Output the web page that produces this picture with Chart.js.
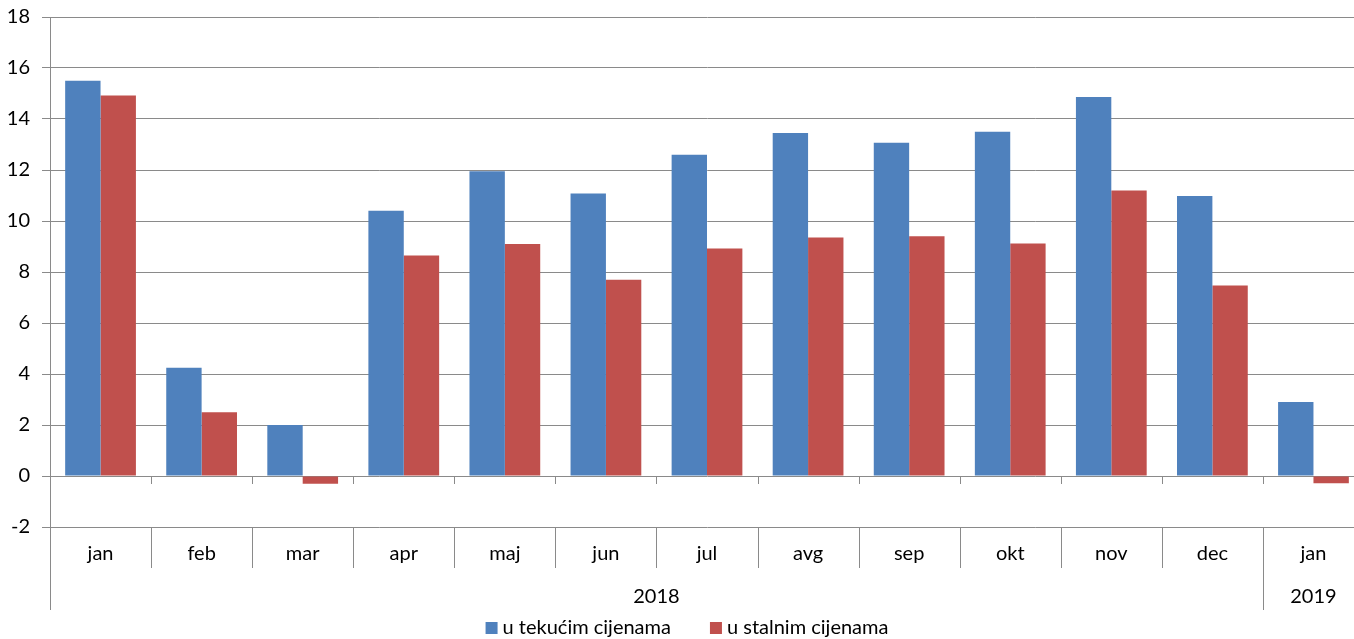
<!DOCTYPE html>
<html lang="hr">
<head>
  <meta charset="UTF-8" />
  <title>Promet</title>
  <script src="https://cdn.jsdelivr.net/npm/chart.js"></script>
  <style>
    html, body {
      margin: 0;
      padding: 0;
      background: #fff;
      overflow: hidden;
    }
    .wrap {
      width: 1364px;
      height: 639px;
    }
  </style>
</head>
<body>

<div class="wrap"><canvas id="chart"></canvas></div>

<script>
const months = ['jan', 'feb', 'mar', 'apr', 'maj', 'jun', 'jul', 'avg', 'sep', 'okt', 'nov', 'dec', 'jan'];
const years = [
  { label: '2018', from: 0, to: 11 },
  { label: '2019', from: 12, to: 12 }
];
const seriesNames = ['u tekućim cijenama', 'u stalnim cijenama'];
const tekuce = [15.5, 4.25, 2.0, 10.4, 11.95, 11.08, 12.6, 13.45, 13.07, 13.5, 14.86, 10.98, 2.9];
const stalne = [14.92, 2.5, -0.3, 8.65, 9.1, 7.7, 8.92, 9.35, 9.4, 9.12, 11.2, 7.47, -0.28];
const colors = ['#4F81BD', '#C0504D'];
const yTicks = { min: -2, max: 18, step: 2 };

const FONT = "Lato, 'Liberation Sans', sans-serif";
const FSIZE = 20;
const GRID = '#8a8a8a';

// axis decoration: ticks at zero, category separators, year row, legend
const decor = {
  id: 'decor',
  afterDraw(chart) {
    const { ctx, chartArea } = chart;
    const y = chart.scales.y;
    const n = months.length;
    const w = (chartArea.right - chartArea.left) / n;
    const y0 = y.getPixelForValue(0);
    const bottom = chartArea.bottom;
    const rowEnd = bottom + 41;
    const axisEnd = bottom + 83;

    ctx.save();
    ctx.strokeStyle = GRID;
    ctx.lineWidth = 1;
    ctx.beginPath();
    // left axis running down through label rows
    ctx.moveTo(chartArea.left + 0.5, bottom);
    ctx.lineTo(chartArea.left + 0.5, axisEnd);
    for (let i = 1; i <= n; i++) {
      const bx = Math.round(chartArea.left + i * w) + 0.5;
      ctx.moveTo(bx, y0);
      ctx.lineTo(bx, y0 + 8);
      ctx.moveTo(bx, bottom);
      ctx.lineTo(bx, rowEnd);
    }
    years.forEach(yr => {
      if (yr.from === 0) return;
      const bx = Math.round(chartArea.left + yr.from * w) + 0.5;
      ctx.moveTo(bx, rowEnd);
      ctx.lineTo(bx, axisEnd);
    });
    ctx.stroke();

    ctx.fillStyle = '#000';
    ctx.font = FSIZE + 'px ' + FONT;
    ctx.textAlign = 'center';
    ctx.textBaseline = 'middle';
    years.forEach(yr => {
      const cx = chartArea.left + ((yr.from + yr.to + 1) / 2) * w;
      ctx.fillText(yr.label, cx, bottom + 70);
    });

    // legend
    const ly = 628;
    const box = 12;
    const gap = 5;
    const spacing = 39;
    const widths = seriesNames.map(s => ctx.measureText(s).width);
    const total = widths.reduce((a, b) => a + b, 0) + seriesNames.length * (box + gap) + spacing * (seriesNames.length - 1);
    let lx = 687 - total / 2;
    ctx.textAlign = 'left';
    seriesNames.forEach((s, i) => {
      ctx.fillStyle = colors[i];
      ctx.fillRect(lx, ly - box / 2, box, box);
      ctx.fillStyle = '#000';
      ctx.fillText(s, lx + box + gap, ly);
      lx += box + gap + widths[i] + spacing;
    });
    ctx.restore();
  }
};

new Chart(document.getElementById('chart'), {
  type: 'bar',
  data: {
    labels: months,
    datasets: [
      { label: seriesNames[0], data: tekuce, backgroundColor: colors[0] },
      { label: seriesNames[1], data: stalne, backgroundColor: colors[1] }
    ]
  },
  options: {
    responsive: true,
    maintainAspectRatio: false,
    animation: false,
    layout: { padding: { top: 17, right: 0, bottom: 29, left: 0 } },
    datasets: { bar: { categoryPercentage: 0.7, barPercentage: 1.0 } },
    plugins: {
      legend: { display: false },
      tooltip: { enabled: false }
    },
    scales: {
      x: {
        grid: { display: false },
        border: { display: false },
        ticks: { color: '#000', font: { family: FONT, size: FSIZE }, padding: 7, maxRotation: 0 },
        afterFit: s => { s.height = 83; }
      },
      y: {
        min: yTicks.min,
        max: yTicks.max,
        ticks: { stepSize: yTicks.step, color: '#000', font: { family: FONT, size: FSIZE }, padding: 12 },
        grid: { color: GRID, tickLength: 8 },
        border: { color: GRID },
        afterFit: s => { s.width = 50; s.paddingTop = 0; s.paddingBottom = 0; }
      }
    }
  },
  plugins: [decor]
});
</script>

</body>
</html>
